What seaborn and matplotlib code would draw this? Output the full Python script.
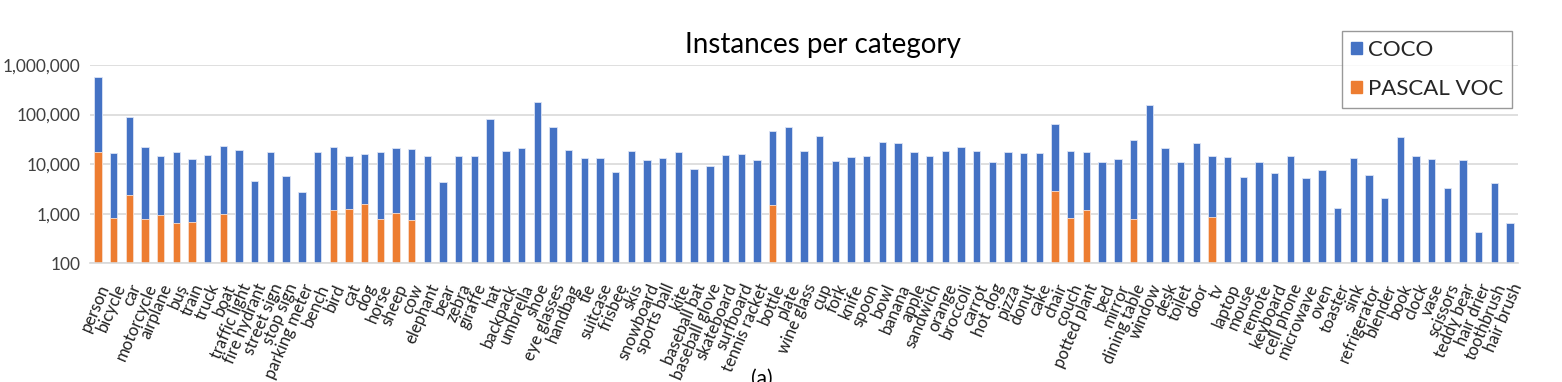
import numpy as np
import pandas as pd
import matplotlib
matplotlib.use("Agg")
import matplotlib.pyplot as plt
from matplotlib.patches import Patch
from matplotlib.ticker import FixedLocator, FuncFormatter
import seaborn as sns

# category names as on the x axis
categories = [
    "person", "bicycle", "car", "motorcycle", "airplane", "bus", "train", "truck",
    "boat", "traffic light", "fire hydrant", "street sign", "stop sign",
    "parking meter", "bench", "bird", "cat", "dog", "horse", "sheep", "cow",
    "elephant", "bear", "zebra", "giraffe", "hat", "backpack", "umbrella", "shoe",
    "eye glasses", "handbag", "tie", "suitcase", "frisbee", "skis", "snowboard",
    "sports ball", "kite", "baseball bat", "baseball glove", "skateboard",
    "surfboard", "tennis racket", "bottle", "plate", "wine glass", "cup", "fork",
    "knife", "spoon", "bowl", "banana", "apple", "sandwich", "orange", "broccoli",
    "carrot", "hot dog", "pizza", "donut", "cake", "chair", "couch",
    "potted plant", "bed", "mirror", "dining table", "window", "desk", "toilet",
    "door", "tv", "laptop", "mouse", "remote", "keyboard", "cell phone",
    "microwave", "oven", "toaster", "sink", "refrigerator", "blender", "book",
    "clock", "vase", "scissors", "teddy bear", "hair drier", "toothbrush",
    "hair brush",
]

# COCO instances per category
coco_counts = [
    573000, 16600, 88400, 21700, 14700, 17200, 12600, 15400,
    23400, 19700, 4500, 17200, 5800,
    2800, 17700, 21700, 14500, 16100, 17200, 21000, 20000,
    14500, 4400, 14500, 14500, 81800, 18000, 21000, 180000,
    57300, 19400, 13600, 13200, 7100, 18300, 12400,
    13600, 17200, 8050, 9250, 15200,
    15700, 12200, 46200, 55600, 18300, 36600, 11700,
    13800, 14700, 27700, 26500, 17700, 14700, 18500, 21700,
    18500, 11000, 17700, 16900, 16400, 65900, 18500,
    17700, 11000, 13000, 31400, 156600, 21000, 11000,
    26500, 14300, 13800, 5400, 11300, 6500, 14300,
    5300, 7600, 1300, 13400, 6100, 2070, 35500,
    14300, 12600, 3300, 12000, 434, 4100,
    665,
]

# PASCAL VOC instances, only for the 20 shared classes
voc_counts = {
    "person": 17200, "bicycle": 806, "car": 2377, "motorcycle": 781,
    "airplane": 955, "bus": 659, "train": 680, "boat": 1000, "bird": 1205,
    "cat": 1261, "dog": 1541, "horse": 781, "sheep": 1048, "cow": 745,
    "bottle": 1494, "chair": 2900, "couch": 806, "potted plant": 1186,
    "dining table": 781, "tv": 857,
}

df = pd.DataFrame({"category": categories, "coco": coco_counts})
df["voc"] = df["category"].map(voc_counts)

blue = "#4472C4"
orange = "#ED7D31"

sns.set_theme(style="white")
plt.rcParams["font.family"] = ["Lato", "DejaVu Sans"]

fig = plt.figure(figsize=(15.62, 3.82), dpi=100)
ax = fig.add_axes([90 / 1562, 1 - 263.3 / 382, 1428 / 1562, (263.3 - 65) / 382])
ax.set_yscale("log")

sns.barplot(data=df, x="category", y="coco", order=categories, color=blue,
            saturation=1, width=0.47, edgecolor="#dce4f5", linewidth=0.6, ax=ax)
sns.barplot(data=df.dropna(subset=["voc"]), x="category", y="voc", order=categories,
            color=orange, saturation=1, width=0.47, edgecolor="#fbe0cf",
            linewidth=0.6, ax=ax)

ax.set_ylim(100, 1_000_000)
ax.set_xlim(-0.5, len(categories) - 0.5)
ax.yaxis.set_major_locator(FixedLocator([1e2, 1e3, 1e4, 1e5, 1e6]))
ax.yaxis.set_minor_locator(FixedLocator([]))
ax.yaxis.set_major_formatter(FuncFormatter(lambda v, p: f"{int(round(v)):,}"))
ax.grid(axis="y", color="#d9d9d9", linewidth=1.2)
ax.set_axisbelow(True)
for side in ["top", "right", "left"]:
    ax.spines[side].set_visible(False)
ax.spines["bottom"].set_color("#d9d9d9")
ax.spines["bottom"].set_linewidth(1.2)
ax.tick_params(axis="y", length=0, labelsize=12.5, colors="#404040", pad=7)
ax.tick_params(axis="x", length=0, labelsize=12, colors="#202020", pad=13)
ax.set_xlabel("")
ax.set_ylabel("")
plt.setp(ax.get_xticklabels(), rotation=67, ha="right", rotation_mode="anchor")

fig.text(823 / 1562, 1 - 45 / 382, "Instances per category", ha="center",
         va="center", fontsize=20, color="#000000")

handles = [Patch(facecolor=blue, edgecolor=blue, label="COCO"),
           Patch(facecolor=orange, edgecolor=orange, label="PASCAL VOC")]
leg = fig.legend(handles=handles, loc="upper left",
                 bbox_to_anchor=(1342 / 1562, 1 - 31 / 382), borderaxespad=0,
                 fontsize=16, frameon=True, fancybox=False, edgecolor="#808080",
                 handlelength=0.5, handleheight=0.5, handletextpad=0.25,
                 labelspacing=0.85, borderpad=0.4)
leg.get_frame().set_linewidth(1.0)

fig.text(762 / 1562, 1 - 369 / 382, "(a)", ha="center", va="top", fontsize=15,
         color="#000000")

fig.savefig("out.png", dpi=100)
